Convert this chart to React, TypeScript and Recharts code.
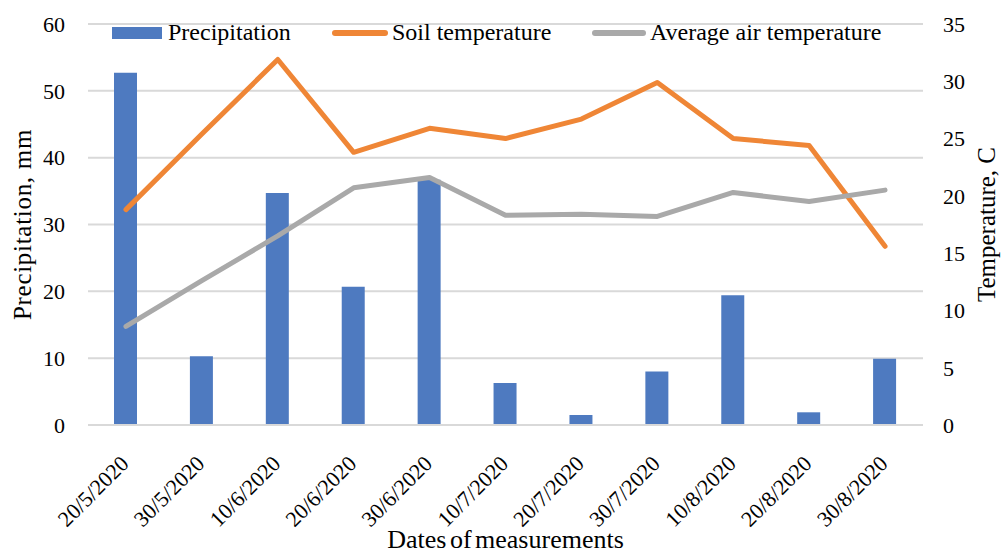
import React from "react";
import { ComposedChart, Bar, Line, XAxis, YAxis, CartesianGrid } from "recharts";

const dates = ["20/5/2020", "30/5/2020", "10/6/2020", "20/6/2020", "30/6/2020", "10/7/2020", "20/7/2020", "30/7/2020", "10/8/2020", "20/8/2020", "30/8/2020"];
const precipitation = [52.7, 10.3, 34.7, 20.7, 36.7, 6.3, 1.5, 8.0, 19.4, 1.9, 9.9];
const soilTemperature = [18.8, 25.4, 31.9, 23.8, 25.9, 25.0, 26.7, 29.9, 25.0, 24.4, 15.6];
const airTemperature = [8.6, 12.6, 16.5, 20.7, 21.6, 18.3, 18.4, 18.2, 20.3, 19.5, 20.5];
const leftTicks = [0, 10, 20, 30, 40, 50, 60];
const rightTicks = [0, 5, 10, 15, 20, 25, 30, 35];

const data = dates.map((d, i) => ({
  date: d,
  precipitation: precipitation[i],
  soil: soilTemperature[i],
  air: airTemperature[i],
}));

const FONT = "'Liberation Serif', 'Times New Roman', Times, 'DejaVu Serif', serif";
const BLUE = "#4E7AC0";
const ORANGE = "#EF8636";
const GRAY = "#A9A9A9";

const XTick = (props: any) => {
  const { x, y, payload } = props;
  return (
    <g transform={`translate(${x + 4},${y + 32})`}>
      <text textAnchor="end" transform="rotate(-45)" fontSize={22} fontFamily={FONT} fill="#000">
        {payload.value}
      </text>
    </g>
  );
};

const LegendOverlay = () => {
  const text: React.CSSProperties = { position: "absolute", top: 0, fontSize: 24, fontFamily: FONT, color: "#000", lineHeight: "26px", whiteSpace: "nowrap" };
  return (
    <div style={{ position: "absolute", left: 0, top: 19, width: 1001, height: 26 }}>
      <div style={{ position: "absolute", left: 112, top: 8, width: 50, height: 12, background: BLUE }} />
      <div style={{ ...text, left: 168 }}>Precipitation</div>
      <div style={{ position: "absolute", left: 332, top: 11, width: 56, height: 6, borderRadius: 3, background: ORANGE }} />
      <div style={{ ...text, left: 392 }}>Soil temperature</div>
      <div style={{ position: "absolute", left: 592, top: 11, width: 54, height: 6, borderRadius: 3, background: GRAY }} />
      <div style={{ ...text, left: 650 }}>Average air temperature</div>
    </div>
  );
};

export default function App() {
  return (
    <div style={{ position: "absolute", left: 0, top: 0, width: 1001, height: 554, background: "#fff" }}>
      <ComposedChart width={1001} height={554} data={data} margin={{ top: 24, right: 0, bottom: 4, left: 0 }}>
        <CartesianGrid vertical={false} stroke="#D9D9D9" strokeWidth={2} yAxisId="left" />
        <XAxis
          dataKey="date"
          tick={<XTick />}
          tickLine={false}
          axisLine={{ stroke: "#D9D9D9", strokeWidth: 2 }}
          height={125}
          interval={0}
          label={{ value: "Dates of measurements", position: "insideBottom", offset: 2, fontSize: 26, fontFamily: FONT, fill: "#000", style: { wordSpacing: "-3px" } }}
        />
        <YAxis
          yAxisId="left"
          width={88}
          domain={[0, 60]}
          ticks={leftTicks}
          tickLine={false}
          axisLine={false}
          tick={{ fontSize: 22, fontFamily: FONT, fill: "#000" }}
          tickMargin={17}
          label={{ value: "Precipitation, mm", angle: -90, position: "insideLeft", offset: 22, style: { textAnchor: "middle", letterSpacing: "0.7px" }, fontSize: 25, fontFamily: FONT, fill: "#000" }}
        />
        <YAxis
          yAxisId="right"
          orientation="right"
          width={78}
          domain={[0, 35]}
          ticks={rightTicks}
          tickLine={false}
          axisLine={false}
          tick={{ fontSize: 22, fontFamily: FONT, fill: "#000", textAnchor: "start" }}
          tickMargin={14}
          label={{ value: "Temperature, C", angle: -90, position: "insideRight", offset: 15, style: { textAnchor: "middle" }, fontSize: 25, fontFamily: FONT, fill: "#000" }}
        />
        <Bar yAxisId="left" dataKey="precipitation" name="Precipitation" fill={BLUE} barSize={23} isAnimationActive={false} />
        <Line yAxisId="right" dataKey="soil" name="Soil temperature" stroke={ORANGE} strokeWidth={5} dot={false} strokeLinejoin="round" strokeLinecap="round" isAnimationActive={false} />
        <Line yAxisId="right" dataKey="air" name="Average air temperature" stroke={GRAY} strokeWidth={5} dot={false} strokeLinejoin="round" strokeLinecap="round" isAnimationActive={false} />
      </ComposedChart>
      <LegendOverlay />
    </div>
  );
}
